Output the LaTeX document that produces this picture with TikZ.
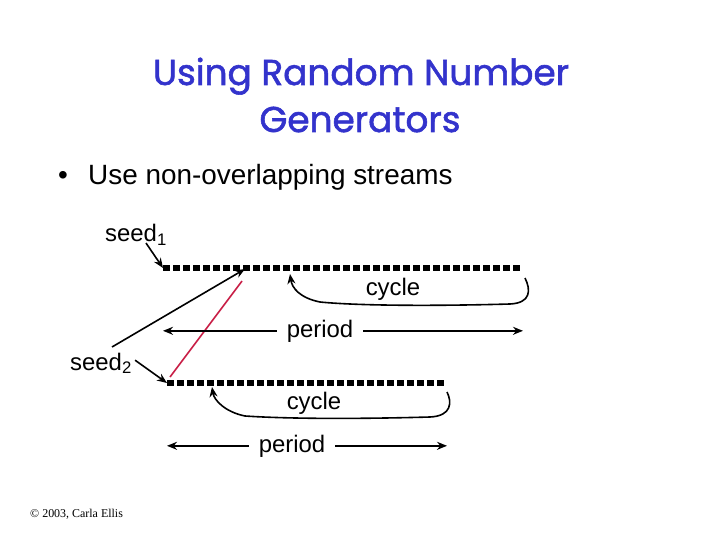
\documentclass[tikz,border=0pt]{standalone}
\usepackage{fontspec}
\setmainfont{Liberation Sans}
\newfontfamily\titlefont[FakeBold=1.6]{Poppins}
\newfontfamily\notefont{Liberation Serif}
\usepackage{xcolor}
\usetikzlibrary{positioning,arrows.meta,calc}
\definecolor{titleblue}{RGB}{51,51,204}
\definecolor{seedred}{RGB}{200,30,70}

\begin{document}
\begin{tikzpicture}[
  x=1bp, y=-1bp,
  heading/.style={font=\titlefont\fontsize{36}{44}\selectfont, text=titleblue, inner sep=0pt, anchor=base},
  lbl/.style={font=\fontsize{24}{28}\selectfont, inner sep=0pt, anchor=base},
  stream/.style={line width=6.5bp, dash pattern=on 6.5bp off 3.5bp},
  arr/.style={-{Stealth[length=10bp,width=8bp]}, line width=1.6bp},
]
\useasboundingbox (0,0) rectangle (720,540);

% title
\node[heading] (ttl1) at (361,85) {Using Random Number};
\node[heading] (ttl2) at (360,132) {Generators};

% bullet line
\node[font=\fontsize{28}{34}\selectfont, inner sep=0pt, anchor=base west] (bul) at (58,185) {\textbullet};
\node[font=\fontsize{28}{34}\selectfont, inner sep=0pt, anchor=base west] (item) at (88,185) {Use non-overlapping streams};

% the two streams
\coordinate (s1a) at (163,268);
\coordinate (s1b) at (523,268);
\coordinate (s2a) at (167,383);
\coordinate (s2b) at (447,383);
\draw[stream] (s1a) -- (s1b);
\draw[stream] (s2a) -- (s2b);

% seeds
\node[lbl, anchor=base west] (seed1) at (105,242) {seed\textsubscript{1}};
\node[lbl, anchor=base west] (seed2) at (70,370) {seed\textsubscript{2}};
\coordinate (t1) at (146,243);
\draw[arr] (t1) -- (s1a);
\draw[arr] ([xshift=3bp,yshift=3bp]seed2.east) -- (s2a);

% seed2 lands inside stream 1
\coordinate (j1) at (112,347);
\coordinate (j2) at (245,269);
\draw[arr] (j1) -- (j2);
\coordinate (r1) at (170,377);
\coordinate (r2) at (242,281);
\draw[seedred, line width=1.6bp] (r1) -- (r2);

% cycle 1
\coordinate (c1s) at (525,278);
\coordinate (c1e) at (290,274);
\draw[arr] (c1s) .. controls (531,290) and (531,303) .. (510,304)
  .. controls (440,306) and (360,306) .. (320,302)
  .. controls (300,298) and (292,288) .. (c1e);
\node[lbl] (cyc1) at (393,295) {cycle};

% period 1
\node[lbl, inner xsep=10bp] (per1) at (320,337) {period};
\draw[arr] (per1.west) -- (per1.west -| s1a);
\draw[arr] (per1.east) -- (per1.east -| s1b);

% cycle 2
\coordinate (c2s) at (447,392);
\coordinate (c2e) at (212,387);
\draw[arr] (c2s) .. controls (452,402) and (452,416) .. (430,417)
  .. controls (360,419) and (290,419) .. (245,416)
  .. controls (225,412) and (214,400) .. (c2e);
\node[lbl] (cyc2) at (314,409) {cycle};

% period 2
\node[lbl, inner xsep=10bp] (per2) at (292,452) {period};
\draw[arr] (per2.west) -- (per2.west -| s2a);
\draw[arr] (per2.east) -- (per2.east -| s2b);

% footer
\node[font=\notefont\fontsize{12}{14}\selectfont, inner sep=0pt, anchor=base west] (copy) at (30,517) {\textcopyright{} 2003, Carla Ellis};
\end{tikzpicture}
\end{document}
